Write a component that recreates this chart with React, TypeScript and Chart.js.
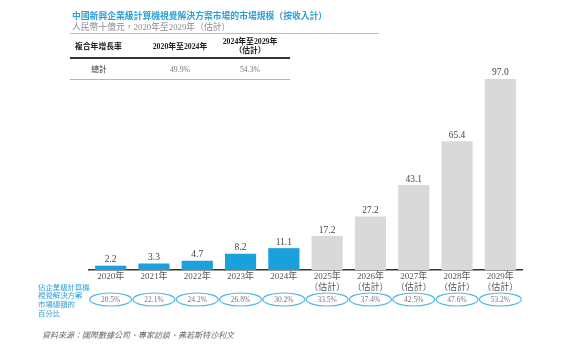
import React, { useEffect, useRef } from "react";
import { Chart, registerables } from "chart.js";

Chart.register(...registerables);

const years = ["2020年", "2021年", "2022年", "2023年", "2024年", "2025年", "2026年", "2027年", "2028年", "2029年"];
const estimated = [false, false, false, false, false, true, true, true, true, true];
const marketSize = [2.2, 3.3, 4.7, 8.2, 11.1, 17.2, 27.2, 43.1, 65.4, 97.0];
const shareOfTotal = ["20.5%", "22.1%", "24.2%", "26.8%", "30.2%", "33.5%", "37.4%", "42.5%", "47.6%", "53.2%"];
const cagrHeaders = ["複合年增長率", "2020年至2024年", "2024年至2029年"];
const cagrRow = ["總計", "49.9%", "54.3%"];

const SERIF = "'Liberation Serif','DejaVu Serif','Noto Sans CJK TC',serif";
const BLUE = "#1aa0dc";
const GREY = "#d9d9da";
const TITLE_BLUE = "#2c9fd6";

const labelsPlugin = {
  id: "valueLabels",
  afterDatasetsDraw(chart: any) {
    const ctx = chart.ctx;
    const meta = chart.getDatasetMeta(0);
    ctx.save();
    ctx.font = `9.5px ${SERIF}`;
    ctx.fillStyle = "#444";
    ctx.textAlign = "center";
    ctx.textBaseline = "middle";
    meta.data.forEach((bar: any, i: number) => {
      ctx.fillText(marketSize[i].toFixed(1), bar.x, bar.y - 6);
    });
    ctx.restore();
  },
};

const ellipsePlugin = {
  id: "shareEllipses",
  afterDraw(chart: any) {
    const ctx = chart.ctx;
    const xs = chart.scales.x;
    const cy = chart.chartArea.bottom + 29.5;
    ctx.save();
    shareOfTotal.forEach((txt, i) => {
      const cx = xs.getPixelForValue(i);
      ctx.beginPath();
      ctx.ellipse(cx, cy, 21, 6.5, 0, 0, Math.PI * 2);
      ctx.strokeStyle = "#55b8e6";
      ctx.lineWidth = 1.2;
      ctx.stroke();
      ctx.font = `7.5px ${SERIF}`;
      ctx.fillStyle = "#777";
      ctx.textAlign = "center";
      ctx.textBaseline = "middle";
      ctx.fillText(txt, cx, cy + 0.5);
    });
    ctx.restore();
  },
};

function ChartCanvas() {
  const ref = useRef<HTMLCanvasElement>(null);
  useEffect(() => {
    if (!ref.current) return;
    const chart = new Chart(ref.current, {
      type: "bar",
      data: {
        labels: years.map((y, i) => (estimated[i] ? [y, "（估計）"] : y)),
        datasets: [
          {
            data: marketSize,
            backgroundColor: estimated.map((e) => (e ? GREY : BLUE)),
            categoryPercentage: 0.72,
            barPercentage: 1,
          },
        ],
      },
      options: {
        animation: false,
        responsive: false,
        maintainAspectRatio: false,
        layout: { padding: { left: 89, right: 62, top: 73, bottom: 0 } },
        plugins: { legend: { display: false }, tooltip: { enabled: false } },
        scales: {
          x: {
            grid: { display: false, drawTicks: false },
            border: { display: true, color: "#333", width: 1.5 },
            ticks: {
              color: "#555",
              padding: 1,
              font: { size: 9, family: SERIF, lineHeight: 1.25 },
              maxRotation: 0,
              autoSkip: false,
            },
            afterFit: (s: any) => {
              s.height = 88;
            },
          },
          y: { display: false, min: 0, max: 100 },
        },
      },
      plugins: [labelsPlugin, ellipsePlugin],
    } as any);
    return () => chart.destroy();
  }, []);
  return <canvas ref={ref} width={584} height={358} style={{ position: "absolute", left: 0, top: 0 }} />;
}

const abs = (o: any): React.CSSProperties => ({ position: "absolute", whiteSpace: "nowrap", ...o });

export default function App() {
  const cjk = "'Liberation Serif','Noto Sans CJK TC',serif";
  return (
    <div style={{ position: "fixed", left: 0, top: 0, width: 584, height: 358, background: "#fff", overflow: "hidden", fontFamily: cjk }}>
      <ChartCanvas />
      <div style={abs({ left: 72, top: 10, fontSize: 8.8, lineHeight: "12px", color: TITLE_BLUE, fontWeight: 700 })}>
        中國新興企業級計算機視覺解決方案市場的市場規模（按收入計）
      </div>
      <div style={abs({ left: 72, top: 21, fontSize: 8.8, lineHeight: "12px", color: "#8a8a8a" })}>
        人民幣十億元，2020年至2029年（估計）
      </div>
      <div style={abs({ left: 70, top: 33, width: 309, height: 1, background: "#bdbdbd" })} />
      <div style={abs({ left: 75, top: 41, fontSize: 7.8, lineHeight: "12px", color: "#222", fontWeight: 700 })}>{cagrHeaders[0]}</div>
      <div style={abs({ left: 140, width: 80, textAlign: "center", top: 41, fontSize: 7.8, lineHeight: "12px", color: "#222", fontWeight: 700 })}>{cagrHeaders[1]}</div>
      <div style={abs({ left: 210, width: 80, textAlign: "center", top: 37, fontSize: 7.8, lineHeight: "9px", color: "#222", fontWeight: 700 })}>
        {cagrHeaders[2]}
        <br />
        （估計）
      </div>
      <div style={abs({ left: 70, top: 57, width: 220, height: 1.5, background: "#333" })} />
      <div style={abs({ left: 79, width: 40, textAlign: "center", top: 64, fontSize: 7.8, lineHeight: "12px", color: "#333" })}>{cagrRow[0]}</div>
      <div style={abs({ left: 140, width: 80, textAlign: "center", top: 64, fontSize: 7.8, lineHeight: "12px", color: "#777" })}>{cagrRow[1]}</div>
      <div style={abs({ left: 210, width: 80, textAlign: "center", top: 64, fontSize: 7.8, lineHeight: "12px", color: "#777" })}>{cagrRow[2]}</div>
      <div style={abs({ left: 70, top: 79, width: 220, height: 1, background: "#b5b5b5" })} />
      <div style={abs({ left: 38, top: 283.5, fontSize: 7.4, lineHeight: "8.8px", color: TITLE_BLUE })}>
        佔企業級計算機
        <br />
        視覺解決方案
        <br />
        市場總額的
        <br />
        百分比
      </div>
      <div style={abs({ left: 42, top: 330, fontSize: 8, lineHeight: "12px", color: "#666", fontStyle: "italic" })}>
        資料來源：國際數據公司、專家訪談、弗若斯特沙利文
      </div>
    </div>
  );
}
